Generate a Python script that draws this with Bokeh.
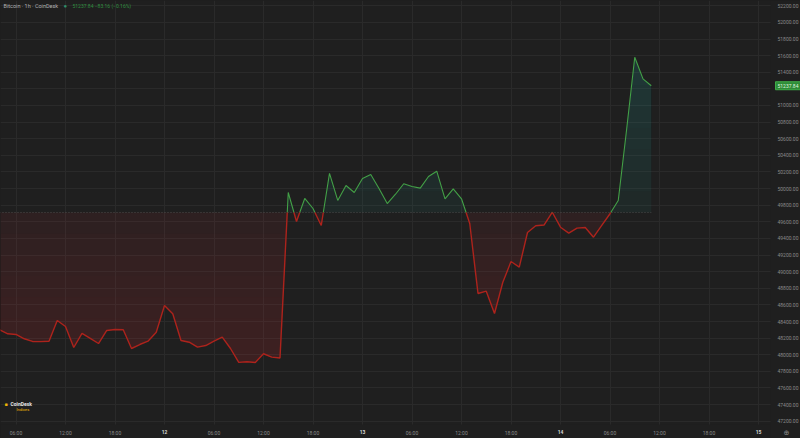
import numpy as np
import pandas as pd
from bokeh.plotting import figure
from bokeh.models import (Range1d, FixedTicker, NumeralTickFormatter, CustomJSTickFormatter,
                          LinearAxis, Label, Grid, BoxAnnotation)
from bokeh.embed import file_html
from bokeh.resources import INLINE

# ---------------- data (Bitcoin, 1h bars, CoinDesk) ----------------
first_bar = "2024-02-11 04:00"
prices = [48300, 48252, 48244, 48192, 48160, 48158, 48163, 48412, 48340, 48087,
          48256, 48196, 48135, 48292, 48304, 48301, 48075, 48123, 48163, 48271,
          48593, 48493, 48172, 48151, 48091, 48111, 48163, 48211, 48075, 47908,
          47915, 47906, 48012, 47971, 47960, 49953, 49604, 49881, 49760, 49556,
          50182, 49857, 50037, 49953, 50121, 50170, 50001, 49820, 49932, 50058,
          50025, 50005, 50145, 50209, 49877, 49997, 49877, 49580, 48737, 48765,
          48497, 48870, 49122, 49054, 49471, 49552, 49561, 49716, 49535, 49463,
          49524, 49531, 49415, 49556, 49697, 49857, 50699, 51581, 51321, 51237.84]
baseline = 49712.0
y_ticks = list(range(47200, 52201, 200))
x_tick_times = pd.date_range("2024-02-11 06:00", "2024-02-15 00:00", freq="6h")
title_text = "Bitcoin · 1h · CoinDesk"
last_price_text = "51237.84"
change_text = "51237.84  −83.16 (−0.16%)"

# ---------------- layout helpers ----------------
W, H = 800, 438
PLOT_R, PLOT_B = 770, 424          # right / bottom edge of the price pane (px)
BASE_PX = 212
ms_h = 3600000.0
day12 = pd.Timestamp("2024-02-12 00:00").value / 1e6
px_per_h = 8.25
x_left = day12 + (0 - 164) / px_per_h * ms_h
x_right = x_left + W / px_per_h * ms_h
upp = 200 / 16.616
y_top = 52200 + 5.3 * upp
y_bot = y_top - H * upp

def px2x(px):
    return x_left + px / px_per_h * ms_h

def px2y(py):
    return y_top - py * upp

times = pd.date_range(first_bar, periods=len(prices), freq="h")
t = (times.astype("int64") / 1e6).to_numpy().astype(float)
pr = np.array(prices, dtype=float)

def with_level(x, y, level):
    """insert the points where the line crosses `level`"""
    X, Y = [x[0]], [y[0]]
    for i in range(1, len(y)):
        a, b = y[i - 1] - level, y[i] - level
        if a * b < 0:
            f = a / (a - b)
            X.append(x[i - 1] + f * (x[i] - x[i - 1]))
            Y.append(level)
        X.append(x[i])
        Y.append(y[i])
    return np.array(X), np.array(Y)

xs, ys = with_level(t, pr, baseline)
up = np.where(ys >= baseline, ys, np.nan)
dn = np.where(ys <= baseline, ys, np.nan)

BG = "#1f1f1f"
GRID = "#2a2a2a"
GREEN = "#43a047"
RED = "#ad231c"
GREEN_FILL = "#26a69a"
RED_FILL = "#cd2d3c"
AXIS_TXT = "#8a8a8a"
FONT = "Roboto"

p = figure(width=W, height=H, x_range=Range1d(x_left, x_right), y_range=Range1d(y_bot, y_top),
           x_axis_type=None, y_axis_type=None, toolbar_location=None, output_backend="svg",
           background_fill_color=BG, border_fill_color=BG, outline_line_color=None,
           min_border=0)

tick_ms = (x_tick_times.astype("int64") / 1e6).astype(float)
hour_ticks = [float(v) for v, ts in zip(tick_ms, x_tick_times) if ts.hour != 0]
day_ticks = [float(v) for v, ts in zip(tick_ms, x_tick_times) if ts.hour == 0]
xticker = FixedTicker(ticks=[float(v) for v in tick_ms])
yticker = FixedTicker(ticks=y_ticks)
p.add_layout(Grid(dimension=0, ticker=xticker, grid_line_color=GRID, grid_line_width=1))
p.add_layout(Grid(dimension=1, ticker=yticker, grid_line_color=GRID, grid_line_width=1))
# keep the axis strips free of grid lines
p.add_layout(BoxAnnotation(top=px2y(PLOT_B), fill_color=BG, fill_alpha=1, line_alpha=0, level="underlay"))
p.add_layout(BoxAnnotation(left=px2x(PLOT_R), fill_color=BG, fill_alpha=1, line_alpha=0, level="underlay"))

# gradient fills: stacked translucent layers, stronger away from the baseline
N = 10
red_step = (PLOT_B - BASE_PX) / N * upp
green_step = BASE_PX / N * upp
for k in range(N):
    lvl = baseline - k * red_step
    if pr.min() < lvl:
        X, Y = with_level(t, pr, lvl)
        p.varea(x=X, y1=lvl, y2=np.minimum(Y, lvl), fill_color=RED_FILL,
                fill_alpha=0.085 if k == 0 else 0.02)
    lvl = baseline + k * green_step
    if pr.max() > lvl:
        X, Y = with_level(t, pr, lvl)
        p.varea(x=X, y1=lvl, y2=np.maximum(Y, lvl), fill_color=GREEN_FILL,
                fill_alpha=0.08 if k == 0 else 0.024)

# baseline dotted line
p.line(x=[t[0], t[-1]], y=[baseline, baseline], line_color="#4a4a4a", line_dash="1 2", line_width=1)
# lines
p.line(x=xs, y=up, line_color=GREEN, line_width=1.1)
p.line(x=xs, y=dn, line_color=RED, line_width=1.4)

# axes (drawn inside the canvas edge strips)
yaxis = LinearAxis(ticker=yticker, formatter=NumeralTickFormatter(format="0.00"),
                   fixed_location=px2x(PLOT_R),
                   major_label_overrides={51200: ""},
                   axis_line_color=None, major_tick_line_color=None, minor_tick_line_color=None,
                   major_tick_in=0, major_tick_out=0, major_label_standoff=7,
                   major_label_text_font_size="5px", major_label_text_color=AXIS_TXT,
                   major_label_text_font=FONT)
p.add_layout(yaxis, "right")

xfmt = CustomJSTickFormatter(code="""
const d = new Date(tick);
const h = d.getUTCHours();
if (h === 0) { return String(d.getUTCDate()); }
return (h < 10 ? '0' : '') + h + ':00';
""")
common = dict(formatter=xfmt, fixed_location=px2y(PLOT_B),
              axis_line_color=None, major_tick_line_color=None, minor_tick_line_color=None,
              major_tick_in=0, major_tick_out=0, major_label_standoff=5,
              major_label_text_font_size="5px", major_label_text_font=FONT)
p.add_layout(LinearAxis(ticker=FixedTicker(ticks=hour_ticks), major_label_text_color=AXIS_TXT,
                        **common), "below")
p.add_layout(LinearAxis(ticker=FixedTicker(ticks=day_ticks), major_label_text_color="#d6d6d6",
                        major_label_text_font_style="bold", **common), "below")

# price tag
p.add_layout(Label(x=px2x(775), y=pr[-1], text=last_price_text, text_font=FONT,
                   text_font_size="5px", text_color="#dff5df", text_baseline="middle",
                   background_fill_color="#2e8b37", border_line_color="#3fae48",
                   padding=2))

# legend / title row
p.add_layout(Label(x=px2x(3), y=px2y(5), text=title_text, text_font=FONT, text_font_size="5.5px",
                   text_color="#b0b0b0", text_baseline="middle"))
p.add_layout(Label(x=px2x(63), y=px2y(5), text="●", text_font=FONT, text_font_size="6px",
                   text_color="#2f8f6a", text_baseline="middle"))
p.add_layout(Label(x=px2x(72), y=px2y(5), text=change_text, text_font=FONT, text_font_size="5px",
                   text_color="#2f8f3f", text_baseline="middle"))

# logo
p.add_layout(Label(x=px2x(4), y=px2y(403), text="■", text_font=FONT, text_font_size="5px",
                   text_color="#f2b705", text_baseline="middle"))
p.add_layout(Label(x=px2x(10), y=px2y(403), text="CoinDesk", text_font=FONT, text_font_size="5px",
                   text_font_style="bold", text_color="#e8e8e8", text_baseline="middle"))
p.add_layout(Label(x=px2x(16), y=px2y(408.5), text="Indices", text_font=FONT, text_font_size="4px",
                   text_color="#f2b705", text_baseline="middle"))
# settings icon at bottom right
p.add_layout(Label(x=px2x(783), y=px2y(432), text="⊕", text_font="DejaVu Sans", text_font_size="7px",
                   text_color=AXIS_TXT, text_baseline="middle"))

html = file_html(p, INLINE)
html = html.replace("</head>", "<style>html,body{margin:0;padding:0;background:%s;}</style></head>" % BG, 1)
open("out.html", "w").write(html)
